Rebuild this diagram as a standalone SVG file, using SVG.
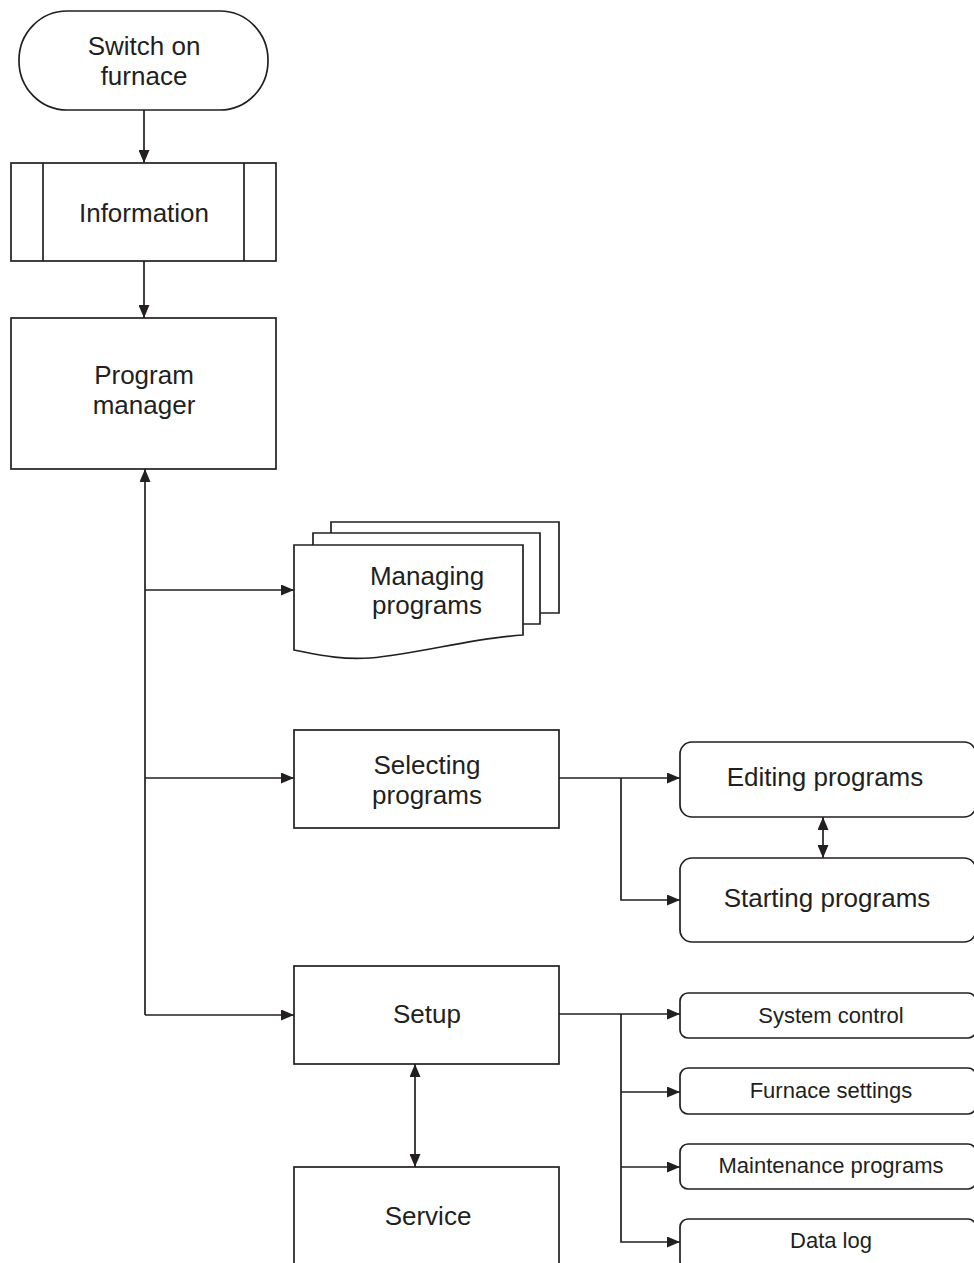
<svg xmlns="http://www.w3.org/2000/svg" width="974" height="1263" viewBox="0 0 974 1263">
<defs>
<marker id="ah" viewBox="0 0 13 11" refX="13" refY="5.5" markerWidth="13" markerHeight="11" markerUnits="userSpaceOnUse" orient="auto-start-reverse">
<path d="M0,0 L13,5.5 L0,11 Z" fill="#231f20"/>
</marker>
<style>
.s{fill:#fff;stroke:#231f20;stroke-width:1.7}
.c{fill:none;stroke:#231f20;stroke-width:1.7}
.t{font-family:"Liberation Sans",Arial,Helvetica,sans-serif;font-size:26px;fill:#231f20;text-anchor:middle}
.ts{font-family:"Liberation Sans",Arial,Helvetica,sans-serif;font-size:22px;fill:#231f20;text-anchor:middle}
</style>
</defs>
<rect width="974" height="1263" fill="#fff"/>
<g id="connectors">
<line class="c" x1="144" y1="110" x2="144" y2="163" marker-end="url(#ah)"/>
<line class="c" x1="144" y1="261" x2="144" y2="318" marker-end="url(#ah)"/>
<line class="c" x1="145" y1="1015" x2="145" y2="469" marker-end="url(#ah)"/>
<line class="c" x1="145" y1="590" x2="294" y2="590" marker-end="url(#ah)"/>
<line class="c" x1="145" y1="778" x2="294" y2="778" marker-end="url(#ah)"/>
<line class="c" x1="145" y1="1015" x2="294" y2="1015" marker-end="url(#ah)"/>
<line class="c" x1="559" y1="778" x2="680" y2="778" marker-end="url(#ah)"/>
<polyline class="c" points="621,778 621,900 680,900" marker-end="url(#ah)"/>
<line class="c" x1="823" y1="817" x2="823" y2="858" marker-start="url(#ah)" marker-end="url(#ah)"/>
<line class="c" x1="559" y1="1014" x2="680" y2="1014" marker-end="url(#ah)"/>
<polyline class="c" points="621,1014 621,1242 680,1242" marker-end="url(#ah)"/>
<line class="c" x1="621" y1="1092" x2="680" y2="1092" marker-end="url(#ah)"/>
<line class="c" x1="621" y1="1167" x2="680" y2="1167" marker-end="url(#ah)"/>
<line class="c" x1="415" y1="1064" x2="415" y2="1167" marker-start="url(#ah)" marker-end="url(#ah)"/>
</g>
<g id="switch-on">
<rect class="s" x="19" y="11" width="249" height="99" rx="48" ry="49"/>
<text class="t" x="144" y="55">Switch on</text>
<text class="t" x="144" y="85">furnace</text>
</g>
<g id="information">
<rect class="s" x="11" y="163" width="265" height="98"/>
<line class="c" x1="43" y1="163" x2="43" y2="261"/>
<line class="c" x1="244" y1="163" x2="244" y2="261"/>
<text class="t" x="144" y="222">Information</text>
</g>
<g id="program-manager">
<rect class="s" x="11" y="318" width="265" height="151"/>
<text class="t" x="144" y="384">Program</text>
<text class="t" x="144" y="414">manager</text>
</g>
<g id="managing-programs">
<path class="s" d="M331,533 L331,522 L559,522 L559,613 L540,613"/>
<path class="s" d="M313,545 L313,533 L540,533 L540,624 L523,624"/>
<path class="s" d="M294,545 L523,545 L523,635 C470,638 420,654 370,658 C340,660 320,655 294,650 Z"/>
<text class="t" x="427" y="585">Managing</text>
<text class="t" x="427" y="614">programs</text>
</g>
<g id="selecting-programs">
<rect class="s" x="294" y="730" width="265" height="98"/>
<text class="t" x="427" y="774">Selecting</text>
<text class="t" x="427" y="804">programs</text>
</g>
<g id="editing-programs">
<rect class="s" x="680" y="742" width="296" height="75" rx="12"/>
<text class="t" x="825" y="786">Editing programs</text>
</g>
<g id="starting-programs">
<rect class="s" x="680" y="858" width="296" height="84" rx="12"/>
<text class="t" x="827" y="907">Starting programs</text>
</g>
<g id="setup">
<rect class="s" x="294" y="966" width="265" height="98"/>
<text class="t" x="427" y="1023">Setup</text>
</g>
<g id="service">
<rect class="s" x="294" y="1167" width="265" height="110"/>
<text class="t" x="428" y="1225">Service</text>
</g>
<g id="system-control">
<rect class="s" x="680" y="993" width="296" height="45" rx="8"/>
<text class="ts" x="831" y="1023">System control</text>
</g>
<g id="furnace-settings">
<rect class="s" x="680" y="1068" width="296" height="46" rx="8"/>
<text class="ts" x="831" y="1098">Furnace settings</text>
</g>
<g id="maintenance-programs">
<rect class="s" x="680" y="1144" width="296" height="45" rx="8"/>
<text class="ts" x="831" y="1173">Maintenance programs</text>
</g>
<g id="data-log">
<rect class="s" x="680" y="1219" width="296" height="50" rx="8"/>
<text class="ts" x="831" y="1248">Data log</text>
</g>
</svg>
